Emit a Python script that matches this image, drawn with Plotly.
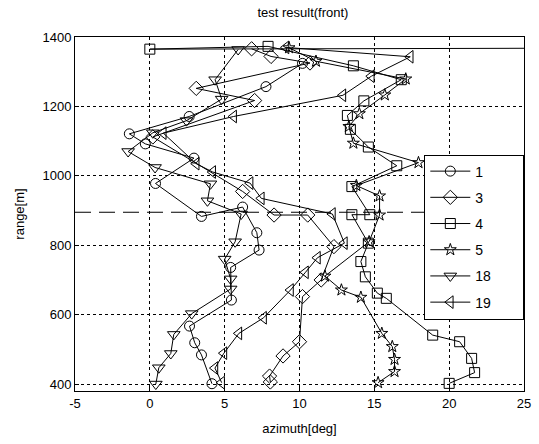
import plotly.graph_objects as go

# ---- data ----
s1_x = [4.15, 3.45, 3.0, 2.65, 5.45, 5.4, 7.3, 7.15, 6.2, 3.45, 0.38, 2.95, -0.3, -1.37, 2.63, 7.76, 10.2]
s1_y = [401, 484, 519, 567, 642, 736, 786, 836, 910, 883, 978, 1051, 1092, 1121, 1171, 1257, 1324]

s3_x = [8.05, 8.0, 8.9, 10.0, 10.2, 11.45, 12.3, 10.55, 8.3, 6.2, 0.2, 7.0, 3.1, 10.7, 8.1, 6.8]
s3_y = [406, 423, 481, 522, 652, 700, 796, 887, 887, 955, 1112, 1217, 1252, 1325, 1344, 1366]

s4_x = [20.0, 21.7, 21.5, 20.7, 18.9, 15.8, 15.2, 14.4, 14.1, 14.6, 13.5, 14.7, 13.5, 16.5, 14.6, 13.4, 13.2, 14.3, 16.8, 13.6, 7.9, 0.0, 30.0]
s4_y = [402, 433, 474, 522, 541, 647, 662, 709, 753, 806, 888, 888, 969, 1029, 1083, 1134, 1174, 1216, 1277, 1317, 1373, 1365, 1368]

s5_x = [15.25, 16.35, 16.35, 16.2, 15.5, 14.1, 12.8, 11.7, 14.65, 15.35, 15.35, 13.8, 17.95, 13.6, 13.3, 14.0, 15.7, 17.1, 11.1, 9.3]
s5_y = [404, 436, 471, 508, 546, 650, 671, 711, 810, 887, 942, 972, 1038, 1094, 1142, 1179, 1233, 1279, 1330, 1369]

s18_x = [0.4, 0.6, 1.4, 1.6, 2.8, 5.4, 5.4, 5.0, 5.7, 6.1, 3.85, 4.05, 0.35, -1.45, 0.2, 2.45, 4.8, 4.36, 5.9]
s18_y = [400, 447, 488, 543, 603, 674, 703, 760, 810, 890, 928, 977, 1024, 1070, 1124, 1159, 1221, 1277, 1364]

s19_x = [4.8, 4.35, 4.95, 5.95, 7.6, 9.4, 10.4, 11.2, 13.0, 12.2, 7.45, 6.7, 4.2, 3.1, 0.9, 5.6, 12.9, 14.8, 17.4, 9.1]
s19_y = [404, 446, 489, 546, 591, 671, 722, 764, 806, 890, 935, 979, 1011, 1035, 1123, 1171, 1232, 1287, 1343, 1370]

series_names = ["1", "3", "4", "5", "18", "19"]
series_x = [s1_x, s3_x, s4_x, s5_x, s18_x, s19_x]
series_y = [s1_y, s3_y, s4_y, s5_y, s18_y, s19_y]
symbols = ["circle-open", "diamond-open", "square-open", "star-open", "triangle-down-open", "triangle-left-open"]
sizes = [10, 11, 10, 9, 11, 11]

dashed_range = 895
x_ticks = [-5, 0, 5, 10, 15, 20, 25]
y_ticks = [400, 600, 800, 1000, 1200, 1400]

FONT = "Liberation Sans, Arial, sans-serif"
PAD = "\u00a0" * 7

fig = go.Figure()
for name, xs, ys, sym, sz in zip(series_names, series_x, series_y, symbols, sizes):
    fig.add_trace(go.Scatter(
        x=xs, y=ys, name=name + PAD, legendgroup=name, mode="lines+markers",
        line=dict(color="black", width=1),
        marker=dict(symbol=sym, size=sz, color="black", line=dict(color="black", width=1)),
        cliponaxis=True,
    ))

fig.add_shape(type="line", xref="paper", x0=0, x1=1, yref="y", y0=dashed_range, y1=dashed_range,
              line=dict(color="black", width=1.2, dash="16px,8px"), layer="above")

fig.update_layout(
    width=539, height=444,
    margin=dict(l=75, r=8, t=37, b=53),
    paper_bgcolor="white", plot_bgcolor="white",
    font=dict(family=FONT, size=13, color="black"),
    title=dict(text="test result(front)", x=0.562, xanchor="center", y=0.972, yanchor="middle",
               yref="container", font=dict(size=13, family=FONT, color="black")),
    showlegend=True,
    legend=dict(x=0.778, xanchor="left", y=0.668, yanchor="top",
                bgcolor="white", bordercolor="black", borderwidth=1,
                font=dict(size=14, family=FONT, color="black"),
                tracegroupgap=5, itemwidth=40),
)
fig.update_xaxes(range=[-5, 25], tickvals=x_ticks, ticktext=[str(v) for v in x_ticks],
                 showgrid=True, gridcolor="black", griddash="dot", gridwidth=1,
                 showline=True, linecolor="black", linewidth=1, mirror=True,
                 ticks="inside", ticklen=4, tickcolor="black", zeroline=False,
                 title=dict(text="azimuth[deg]", standoff=14, font=dict(size=13)))
fig.update_yaxes(range=[380, 1400], tickvals=y_ticks, ticktext=[str(v) for v in y_ticks],
                 showgrid=True, gridcolor="black", griddash="dot", gridwidth=1,
                 showline=True, linecolor="black", linewidth=1, mirror=True,
                 ticks="inside", ticklen=4, tickcolor="black", zeroline=False,
                 title=dict(text="range[m]", standoff=14, font=dict(size=13)))

fig.write_html("out.html")
